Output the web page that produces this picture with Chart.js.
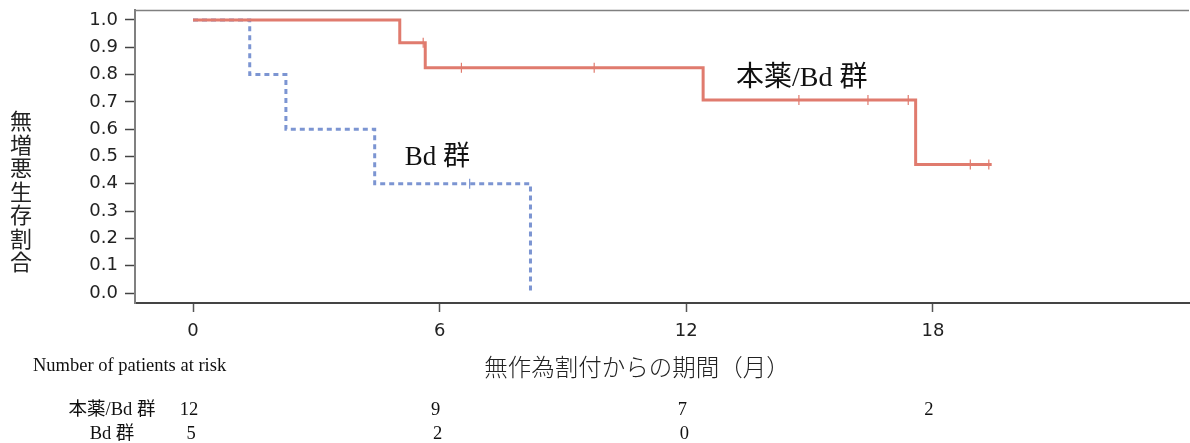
<!DOCTYPE html>
<html>
<head>
<meta charset="utf-8">
<script src="https://cdn.jsdelivr.net/npm/chart.js@4/dist/chart.umd.min.js"></script>
<style>
  html, body { margin: 0; padding: 0; background: #fff; overflow: hidden; }
  canvas { display: block; }
</style>
</head>
<body>
<canvas id="chart" width="1190" height="443"></canvas>
<script>
// step points (time in months, survival)
const drugTimes = [0, 5.03, 5.65, 12.41, 17.58, 19.43];
const drugSurv = [1.0, 0.917, 0.825, 0.707, 0.471, 0.471];
const drugCensor = [5.6, 6.53, 9.76, 14.74, 16.42, 17.4, 18.91, 19.36];

const bdTimes = [0, 1.38, 2.26, 4.42, 8.21];
const bdSurv = [1.0, 0.8, 0.6, 0.4, 0.0];
const bdCensor = [6.73];

const xTicks = [0, 6, 12, 18];
const riskTimes = [0, 6, 12, 18];
const riskDrug = [12, 9, 7, 2];
const riskBd = [5, 2, 0];

const groupNames = ["本薬/Bd 群", "Bd 群"];
const yTitle = "無増悪生存割合";
const xTitle = "無作為割付からの期間（月）";

const RED = "#e07b6e";
const BLUE = "#7c95d2";

function pts(ts, ss) {
  return ts.map((t, i) => ({ x: t, y: ss[i] }));
}

// survival value at time t (step lookup)
function survAt(ts, ss, t) {
  let v = ss[0];
  for (let i = 0; i < ts.length; i++) if (ts[i] <= t) v = ss[i];
  return v;
}

function censorPts(c, ts, ss) {
  return c.map(t => ({ x: t, y: survAt(ts, ss, t) }));
}

const serif = '"Liberation Serif", "Noto Sans CJK JP", serif';
const cjk = '"Noto Sans CJK JP", sans-serif';

const extras = {
  id: "extras",
  afterDraw(chart) {
    const ctx = chart.ctx;
    const xs = chart.scales.x, ys = chart.scales.y;
    const a = chart.chartArea;
    ctx.save();

    // top frame line
    ctx.strokeStyle = "#808080";
    ctx.lineWidth = 1.5;
    ctx.beginPath();
    ctx.moveTo(a.left, a.top + 0.5);
    ctx.lineTo(a.right, a.top + 0.5);
    ctx.stroke();

    ctx.fillStyle = "#111";
    ctx.textBaseline = "middle";

    // curve labels
    ctx.font = "28px " + serif;
    ctx.textAlign = "left";
    ctx.fillText(groupNames[0], xs.getPixelForValue(13.21), ys.getPixelForValue(0.784));
    ctx.font = "27px " + serif;
    ctx.fillText(groupNames[1], xs.getPixelForValue(5.15), ys.getPixelForValue(0.494));

    // y title, stacked
    ctx.font = "22px " + cjk;
    ctx.textAlign = "center";
    ctx.fillStyle = "#222";
    [...yTitle].forEach((ch, i) => ctx.fillText(ch, 21, 121 + i * 23.5));

    // x title
    ctx.font = "300 23.5px " + cjk;
    ctx.fillText(xTitle, 637, 367);

    // risk table
    ctx.fillStyle = "#111";
    ctx.font = "18.5px " + serif;
    ctx.textAlign = "left";
    ctx.fillText("Number of patients at risk", 33, 366);
    ctx.textAlign = "center";
    ctx.fillText(groupNames[0], 112, 410);
    ctx.fillText(groupNames[1], 112, 434);
    riskDrug.forEach((n, i) => ctx.fillText(String(n), xs.getPixelForValue(riskTimes[i]) - 4, 410));
    riskBd.forEach((n, i) => ctx.fillText(String(n), xs.getPixelForValue(riskTimes[i]) - 2, 434));
    ctx.restore();
  }
};

new Chart(document.getElementById("chart"), {
  type: "line",
  data: {
    datasets: [
      {
        label: groupNames[0],
        data: pts(drugTimes, drugSurv),
        borderColor: RED,
        borderWidth: 3,
        stepped: "before",
        pointRadius: 0,
        fill: false
      },
      {
        label: groupNames[1],
        data: pts(bdTimes, bdSurv),
        borderColor: BLUE,
        borderWidth: 3,
        borderDash: [5, 4],
        stepped: "before",
        pointRadius: 0,
        fill: false
      },
      {
        label: "censor1",
        data: censorPts(drugCensor, drugTimes, drugSurv),
        showLine: false,
        pointStyle: "line",
        rotation: 90,
        pointRadius: 5,
        borderColor: RED,
        pointBorderWidth: 1.2
      },
      {
        label: "censor2",
        data: censorPts(bdCensor, bdTimes, bdSurv),
        showLine: false,
        pointStyle: "line",
        rotation: 90,
        pointRadius: 5,
        borderColor: BLUE,
        pointBorderWidth: 1.2
      }
    ]
  },
  options: {
    responsive: false,
    animation: false,
    layout: { autoPadding: false, padding: { left: 0, top: 10, right: 1, bottom: 0 } },
    plugins: { legend: { display: false }, tooltip: { enabled: false } },
    scales: {
      x: {
        type: "linear",
        min: -1.411,
        max: 24.23,
        afterBuildTicks: s => { s.ticks = xTicks.map(v => ({ value: v })); },
        afterFit: s => { s.height = 140; s.paddingLeft = 0; s.paddingRight = 0; },
        border: { color: "#444", width: 2 },
        grid: { drawOnChartArea: false, tickLength: 9, tickColor: "#555", tickWidth: 1.5 },
        ticks: { color: "#222", font: { family: "DejaVu Sans", size: 18 }, padding: 9, maxRotation: 0 }
      },
      y: {
        min: -0.0366,
        max: 1.0366,
        afterBuildTicks: s => {
          const t = [];
          for (let i = 0; i <= 10; i++) t.push({ value: i / 10 });
          s.ticks = t;
        },
        afterFit: s => { s.width = 135; s.paddingTop = 0; s.paddingBottom = 0; },
        border: { color: "#808080", width: 2 },
        grid: { drawOnChartArea: false, tickLength: 10, tickColor: "#444", tickWidth: 1.5 },
        ticks: { color: "#222", font: { family: "DejaVu Sans", size: 18 }, padding: 7, callback: v => v.toFixed(1) }
      }
    }
  },
  plugins: [extras]
});
</script>
</body>
</html>
